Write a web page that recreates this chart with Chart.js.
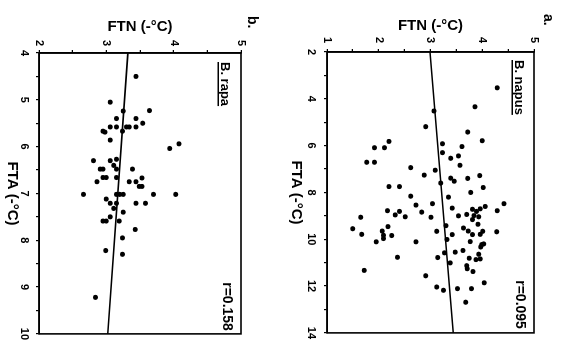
<!DOCTYPE html>
<html><head><meta charset="utf-8">
<script src="https://cdn.jsdelivr.net/npm/chart.js@4"></script>
<style>
html,body{margin:0;padding:0;background:#fff;overflow:hidden;width:563px;height:345px;}
#fig{position:absolute;left:0;top:0;width:345px;height:563px;transform-origin:0 0;transform:translateX(563px) rotate(90deg);background:#fff;}
#ca{position:absolute;left:0;top:0;}
#cb{position:absolute;left:0;top:282px;}
</style></head><body>
<div id="fig"><canvas id="ca" width="345" height="282"></canvas><canvas id="cb" width="345" height="281"></canvas></div>
<script>
// Panel a: B. napus
const ftaA = [3.53,4.34,4.52,5.19,5.42,5.79,5.82,5.92,6.09,6.09,6.04,6.30,6.44,6.54,6.84,6.71,6.71,6.94,7.05,7.28,7.26,7.39,7.52,7.40,7.60,7.75,7.75,7.79,8.00,8.16,8.20,8.48,8.48,8.54,8.67,8.60,8.78,8.81,8.84,8.72,8.81,8.70,8.78,8.96,9.04,9.06,9.00,8.94,8.99,9.04,9.06,9.16,9.36,9.42,9.46,9.55,9.52,9.65,9.68,9.66,9.80,9.66,9.80,9.79,9.79,9.65,9.83,9.84,9.97,10.11,10.11,10.01,10.10,10.23,10.20,10.33,10.48,10.55,10.58,11.01,10.78,10.81,10.77,10.87,10.84,10.64,11.13,11.26,11.38,11.33,11.86,11.56,12.04,12.18,12.11,12.11,12.69];
const ftnA = [4.29,3.86,3.07,2.91,3.72,4.00,2.20,3.23,1.92,2.11,3.61,3.23,3.54,3.39,3.57,1.77,1.92,2.62,3.09,3.95,2.88,3.39,3.46,3.72,3.20,2.20,2.40,4.02,3.78,2.62,3.35,4.42,3.04,2.72,3.42,4.06,2.17,2.40,2.83,3.81,3.89,3.96,4.29,2.32,2.51,3.01,3.54,3.70,3.84,3.93,1.65,3.81,3.92,3.30,2.18,1.50,3.64,3.73,4.28,3.12,3.42,4.01,3.81,3.96,1.67,2.07,2.09,2.25,2.09,1.95,2.72,3.32,3.77,3.99,4.03,3.97,3.63,3.48,3.27,3.38,3.14,3.75,2.36,3.88,3.96,3.93,3.70,3.71,3.82,1.72,4.04,2.91,3.12,3.25,3.52,3.79,3.68];
const fitXA = [2, 14];
const fitYA = [2.99, 3.44];
const ticksXA = [2, 14, 1, 2]; // min, max, tick step, label step
const ticksYA = [1, 5, 0.5, 1];

// Panel b: B. rapa
const ftaB = [4.50,5.05,5.23,5.24,5.40,5.40,5.50,5.58,5.58,5.58,5.58,5.58,5.67,5.69,5.67,5.86,6.04,5.94,6.30,6.30,6.27,6.40,6.48,6.48,6.48,6.48,6.66,6.66,6.66,6.75,6.75,6.75,6.67,6.85,6.85,7.02,7.02,7.02,7.02,7.02,7.02,7.12,7.21,7.21,7.21,7.21,7.32,7.40,7.50,7.59,7.59,7.59,7.77,7.95,8.22,8.30,9.22];
const ftnB = [3.44,3.06,3.64,3.25,3.15,3.44,3.54,3.06,3.15,3.30,3.34,3.44,2.95,2.98,3.24,3.06,3.94,4.08,2.81,3.06,3.15,3.11,2.91,2.95,3.15,3.39,2.95,3.00,3.15,2.86,3.34,3.44,3.53,3.49,3.53,2.66,3.15,3.20,3.25,3.70,4.03,3.00,3.06,3.15,3.44,3.58,3.11,3.25,3.06,2.95,3.00,3.19,3.43,3.24,2.99,3.24,2.84];
const fitXB = [4, 10];
const fitYB = [3.32, 3.02];
const ticksXB = [4, 10, 0.5, 1];
const ticksYB = [2, 5, 0.5, 1];

const FONT = '"Liberation Sans", Arial, sans-serif';

const annot = {
  id: 'annot',
  afterDraw(chart, args, o) {
    const ctx = chart.ctx, a = chart.chartArea;
    ctx.save();
    ctx.strokeStyle = '#000';
    ctx.lineWidth = 1.6;
    ctx.strokeRect(a.left, a.top, a.right - a.left, a.bottom - a.top);
    ctx.fillStyle = '#000';
    ctx.textBaseline = 'middle';
    ctx.font = 'bold 13px ' + FONT;
    ctx.textAlign = 'left';
    ctx.fillText(o.species, a.left + o.sx, a.top + o.sy);
    const w = ctx.measureText(o.species).width;
    ctx.fillRect(a.left + o.sx, a.top + o.sy + 6, w, 1.5);
    ctx.font = 'bold 14px ' + FONT;
    ctx.textAlign = 'right';
    ctx.fillText(o.r, a.right - o.rx, a.top + o.ry);
    ctx.textAlign = 'left';
    ctx.font = 'bold 14px ' + FONT;
    ctx.fillText(o.letter, o.lx, o.ly);
    ctx.restore();
  }
};

function labelEvery(step) {
  return v => (Math.abs(v / step - Math.round(v / step)) < 1e-6 ? String(v) : '');
}

function makeChart(id, fta, ftn, fx, fy, tx, ty, L) {
  const pts = fta.map((v, i) => ({x: v, y: ftn[i]}));
  const line = fx.map((v, i) => ({x: v, y: fy[i]}));
  return new Chart(document.getElementById(id), {
    type: 'scatter',
    data: {datasets: [
      {data: line, showLine: true, borderColor: '#000', borderWidth: 1.6, pointRadius: 0, fill: false},
      {data: pts, backgroundColor: '#000', borderColor: '#000', pointRadius: 2.5, borderWidth: 0}
    ]},
    options: {
      responsive: false, animation: false, devicePixelRatio: 1,
      layout: {padding: {top: L.pt, right: L.pr, left: 0, bottom: 0}},
      plugins: {legend: {display: false}, tooltip: {enabled: false}, annot: L.annot},
      scales: {
        x: {
          type: 'linear', min: tx[0], max: tx[1],
          ticks: {stepSize: tx[2], autoSkip: false, callback: labelEvery(tx[3]), color: '#000', font: {family: FONT, size: 11, weight: 'bold'}, padding: L.xtp, maxRotation: 0},
          grid: {display: true, drawOnChartArea: false, drawTicks: true, tickLength: 3, color: '#000', lineWidth: 1.2},
          border: {display: true, color: '#000', width: 1.6},
          title: {display: true, text: 'FTA (-°C)', color: '#000', font: {family: FONT, size: 15, weight: 'bold'}, padding: {top: 0, bottom: L.xtb}},
          afterFit: s => { s.height = L.xh; }
        },
        y: {
          type: 'linear', min: ty[0], max: ty[1],
          ticks: {stepSize: ty[2], autoSkip: false, callback: labelEvery(ty[3]), color: '#000', font: {family: FONT, size: 11, weight: 'bold'}, padding: L.ytp},
          grid: {display: true, drawOnChartArea: false, drawTicks: true, tickLength: 3, color: '#000', lineWidth: 1.2},
          border: {display: true, color: '#000', width: 1.6},
          title: {display: true, text: 'FTN (-°C)', color: '#000', font: {family: FONT, size: 15, weight: 'bold'}, padding: {top: L.ytt, bottom: 0}},
          afterFit: s => { s.width = L.yw; }
        }
      }
    },
    plugins: [annot]
  });
}

makeChart('ca', ftaA, ftnA, fitXA, fitYA, ticksXA, ticksYA, {
  pt: 29, pr: 11, xh: 46, yw: 52, xtp: 6, xtb: 6, ytp: 6, ytt: 17,
  annot: {species: 'B. napus', sx: 8, sy: 15, r: 'r=0.095', rx: 4, ry: 14, letter: 'a.', lx: 14, ly: 15}
});
makeChart('cb', ftaB, ftnB, fitXB, fitYB, ticksXB, ticksYB, {
  pt: 40, pr: 10, xh: 39, yw: 53, xtp: 5, xtb: 3, ytp: 4, ytt: 18,
  annot: {species: 'B. rapa', sx: 9, sy: 16, r: 'r=0.158', rx: 3, ry: 14, letter: 'b.', lx: 16, ly: 29}
});
</script>
</body></html>
